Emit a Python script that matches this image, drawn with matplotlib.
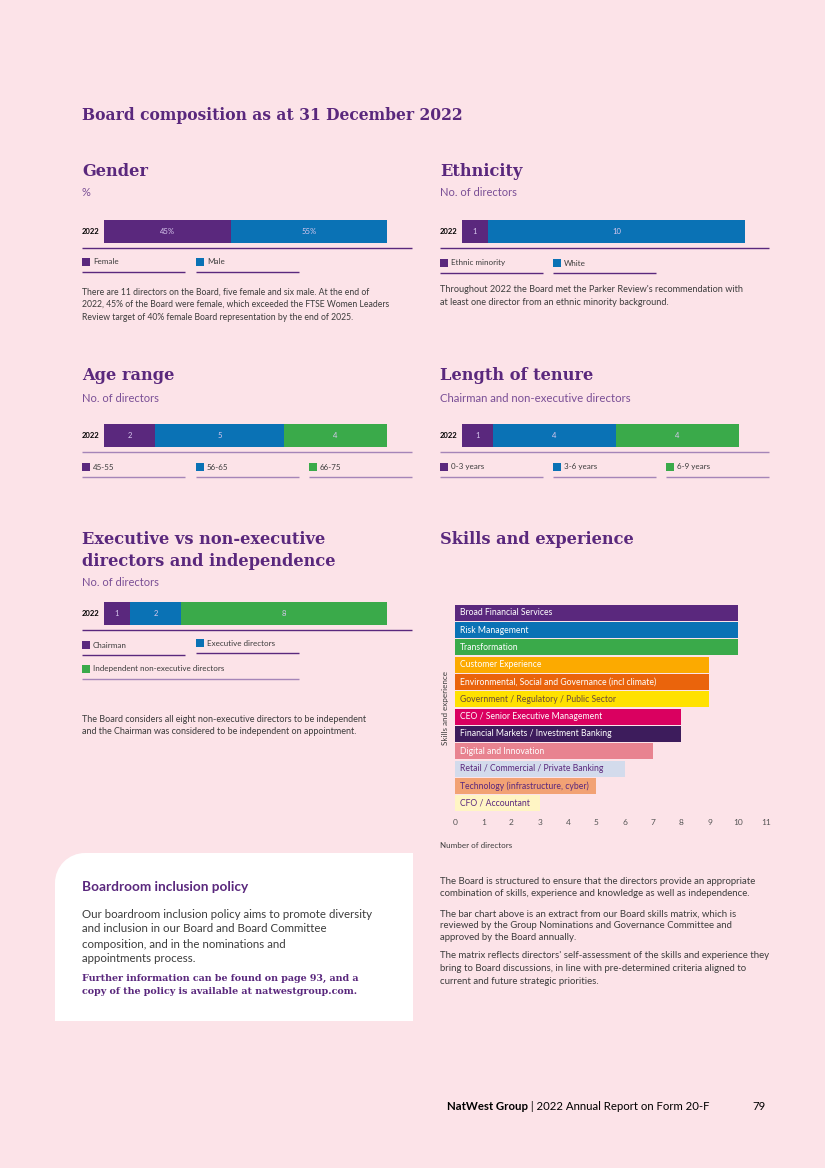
import matplotlib.pyplot as plt
from matplotlib.patches import Rectangle
import numpy as np

W, H = 825, 1168

# ---- data ----
gender_labels = ["Female", "Male"]
gender_values = [45, 55]

ethnicity_labels = ["Ethnic minority", "White"]
ethnicity_values = [1, 10]

age_labels = ["45-55", "56-65", "66-75"]
age_values = [2, 5, 4]

tenure_labels = ["0-3 years", "3-6 years", "6-9 years"]
tenure_values = [1, 4, 4]

exec_labels = ["Chairman", "Executive directors", "Independent non-executive directors"]
exec_values = [1, 2, 8]

skills = ["Broad Financial Services", "Risk Management", "Transformation",
          "Customer Experience", "Environmental, Social and Governance (incl climate)",
          "Government / Regulatory / Public Sector", "CEO / Senior Executive Management",
          "Financial Markets / Investment Banking", "Digital and Innovation",
          "Retail / Commercial / Private Banking", "Technology (infrastructure, cyber)",
          "CFO / Accountant"]
skill_values = [10, 10, 10, 9, 9, 9, 8, 8, 7, 6, 5, 3]

# ---- styles ----
BG = "#fce3e8"
PURPLE = "#5a287d"
BLUE = "#0a72b5"
GREEN = "#3aaa4a"
MAUVE = "#a585b8"
TXT = "#3c3c3c"
seg_colors = [PURPLE, BLUE, GREEN]
skill_colors = ["#5a287d", "#0a72b5", "#3aaa4a", "#fcaa00", "#ea640c", "#ffe100",
                "#da0060", "#3d1c5c", "#e88390", "#d3dbec", "#f2a274", "#fff5c4"]
skill_text = ["white", "white", "white", "white", "white", "#6b4a3a",
              "white", "white", "white", "#5a287d", "#5a287d", "#5a287d"]

SERIF = "DejaVu Serif"
SANS = "Lato"

fig = plt.figure(figsize=(W / 100, H / 100), dpi=100, facecolor=BG)
bg = fig.add_axes([0, 0, 1, 1])
bg.set_xlim(0, W)
bg.set_ylim(H, 0)
bg.axis("off")


def ax_at(x0, y0, x1, y1):
    return fig.add_axes([x0 / W, 1 - y1 / H, (x1 - x0) / W, (y1 - y0) / H])


def heading(x, y, s, size=11.7):
    bg.text(x, y, s, fontsize=size, fontweight="bold", family=SERIF, color=PURPLE, va="center")


def sub(x, y, s, size=8):
    bg.text(x, y, s, fontsize=size, family=SANS, color="#7a4f96", va="center")


def para(x, y, lines, step=12.5, size=6.3):
    for i, l in enumerate(lines):
        bg.text(x, y + i * step, l, fontsize=size, family=SANS, color=TXT, va="center")


def stacked(x0, y0, x1, y1, values, xmax, fmt="{}"):
    ax = ax_at(x0, y0, x1, y1)
    left = 0
    for v, c in zip(values, seg_colors):
        ax.barh(0, v, left=left, color=c, height=1.0)
        ax.text(left + v / 2, 0, fmt.format(v), color="#d8c8ee", fontsize=5.5,
                family=SANS, ha="center", va="center")
        left += v
    ax.set_xlim(0, xmax)
    ax.set_ylim(-0.5, 0.5)
    ax.axis("off")
    bg.text(x0 - 22, (y0 + y1) / 2, "2022", fontsize=5.5, fontweight="bold",
            family=SANS, color="black", va="center")


def baseline(x0, y, x1, color=PURPLE):
    bg.plot([x0, x1], [y, y], color=color, lw=1.0, solid_capstyle="butt")


def legend_item(x, y, label, color, width=103, lcolor=PURPLE):
    bg.add_patch(Rectangle((x, y - 4), 8, 8, color=color, lw=0))
    bg.text(x + 11, y, label, fontsize=5.8, family=SANS, color=TXT, va="center")
    baseline(x, y + 10, x + width, lcolor)


# title
bg.text(82, 116, "Board composition as at 31 December 2022", fontsize=11.2,
        fontweight="bold", family=SERIF, color=PURPLE, va="center")

# Gender
heading(82, 171, "Gender")
sub(82, 193, "%")
stacked(104, 220, 387, 243, gender_values, 100, "{}%")
baseline(82, 248, 412)
legend_item(82, 262, gender_labels[0], PURPLE)
legend_item(196, 262, gender_labels[1], BLUE)
para(82, 292, ["There are 11 directors on the Board, five female and six male. At the end of",
               "2022, 45% of the Board were female, which exceeded the FTSE Women Leaders",
               "Review target of 40% female Board representation by the end of 2025."], size=6.2)

# Ethnicity
heading(440, 171, "Ethnicity")
sub(440, 193, "No. of directors")
stacked(462, 220, 745, 243, ethnicity_values, 11)
baseline(440, 248, 769)
legend_item(440, 263, ethnicity_labels[0], PURPLE)
legend_item(553, 263, ethnicity_labels[1], BLUE)
para(440, 290, ["Throughout 2022 the Board met the Parker Review's recommendation with",
                "at least one director from an ethnic minority background."], size=6.6)

# Age range
heading(82, 376, "Age range")
sub(82, 398, "No. of directors")
stacked(104, 424, 387, 447, age_values, 11)
baseline(82, 452, 412, MAUVE)
for i, (lab, c) in enumerate(zip(age_labels, seg_colors)):
    legend_item(82 + 113.5 * i, 467, lab, c, lcolor=MAUVE)

# Length of tenure
heading(440, 376, "Length of tenure")
sub(440, 398, "Chairman and non-executive directors", size=8.2)
stacked(462, 424, 745, 447, tenure_values, 9.2)
baseline(440, 452, 769, MAUVE)
for i, (lab, c) in enumerate(zip(tenure_labels, seg_colors)):
    legend_item(440 + 113 * i, 467, lab, c, lcolor=MAUVE)

# Executive vs non-executive
heading(82, 540, "Executive vs non-executive")
heading(82, 561, "directors and independence")
sub(82, 582, "No. of directors")
stacked(104, 602, 387, 625, exec_values, 11)
baseline(82, 630, 412)
legend_item(82, 645, exec_labels[0], PURPLE)
legend_item(196, 643, exec_labels[1], BLUE)
legend_item(82, 669, exec_labels[2], GREEN, width=217, lcolor=MAUVE)
para(82, 719, ["The Board considers all eight non-executive directors to be independent",
               "and the Chairman was considered to be independent on appointment."], size=6.5)

# Skills and experience
heading(440, 540, "Skills and experience")
ax = ax_at(455, 604, 766, 812)
ypos = np.arange(len(skills))
ax.barh(ypos, skill_values, color=skill_colors, height=0.94)
for y, s, tc in zip(ypos, skills, skill_text):
    ax.text(0.17, y, s, color=tc, fontsize=6.2, family=SANS, va="center")
ax.set_ylim(len(skills) - 0.5, -0.5)
ax.set_xlim(0, 11)
ax.set_xticks(range(12))
ax.tick_params(axis="x", length=0, labelsize=6, labelcolor="#555555", pad=5)
ax.set_yticks([])
for sp in ax.spines.values():
    sp.set_visible(False)
ax.set_facecolor("none")
for t in ax.get_xticklabels():
    t.set_family(SANS)
ax.set_ylabel("Skills and experience", fontsize=5.8, family=SANS, color=TXT, labelpad=4)
bg.text(440, 846, "Number of directors", fontsize=5.8, family=SANS, color=TXT, va="center")

para(440, 882, ["The Board is structured to ensure that the directors provide an appropriate",
                "combination of skills, experience and knowledge as well as independence."],
     step=12, size=6.9)
para(440, 914, ["The bar chart above is an extract from our Board skills matrix, which is",
                "reviewed by the Group Nominations and Governance Committee and",
                "approved by the Board annually."], step=12, size=6.9)
para(440, 956, ["The matrix reflects directors' self-assessment of the skills and experience they",
                "bring to Board discussions, in line with pre-determined criteria aligned to",
                "current and future strategic priorities."], step=12.5, size=6.9)

# Inclusion policy box (rounded top-left corner only)
r = 30
bg.add_patch(Rectangle((55, 853 + r), 358, 168 - r, color="white", lw=0))
bg.add_patch(Rectangle((55 + r, 853), 358 - r, 168, color="white", lw=0))
bg.add_patch(plt.Circle((55 + r, 853 + r), r, color="white", lw=0))
bg.text(82, 887, "Boardroom inclusion policy", fontsize=9.8, fontweight="bold",
        family=SANS, color=PURPLE, va="center")
para(82, 914, ["Our boardroom inclusion policy aims to promote diversity",
               "and inclusion in our Board and Board Committee",
               "composition, and in the nominations and",
               "appointments process."], step=15, size=8.3)
for i, l in enumerate(["Further information can be found on page 93, and a",
                       "copy of the policy is available at natwestgroup.com."]):
    bg.text(82, 978 + 14 * i, l, fontsize=6.8, fontweight="bold", family=SERIF,
            color=PURPLE, va="center")

# footer
t1 = bg.text(447, 1107, "NatWest Group", fontsize=8.2, fontweight="bold", family=SANS,
             color="black", va="center")
bg.annotate(" | 2022 Annual Report on Form 20-F", xy=(1, 0.5), xycoords=t1,
            fontsize=8.2, family=SANS, color="black", va="center", ha="left")
bg.text(752, 1107, "79", fontsize=8.2, family=SANS, color="black", va="center")

fig.savefig("out.png", dpi=100, facecolor=BG)
